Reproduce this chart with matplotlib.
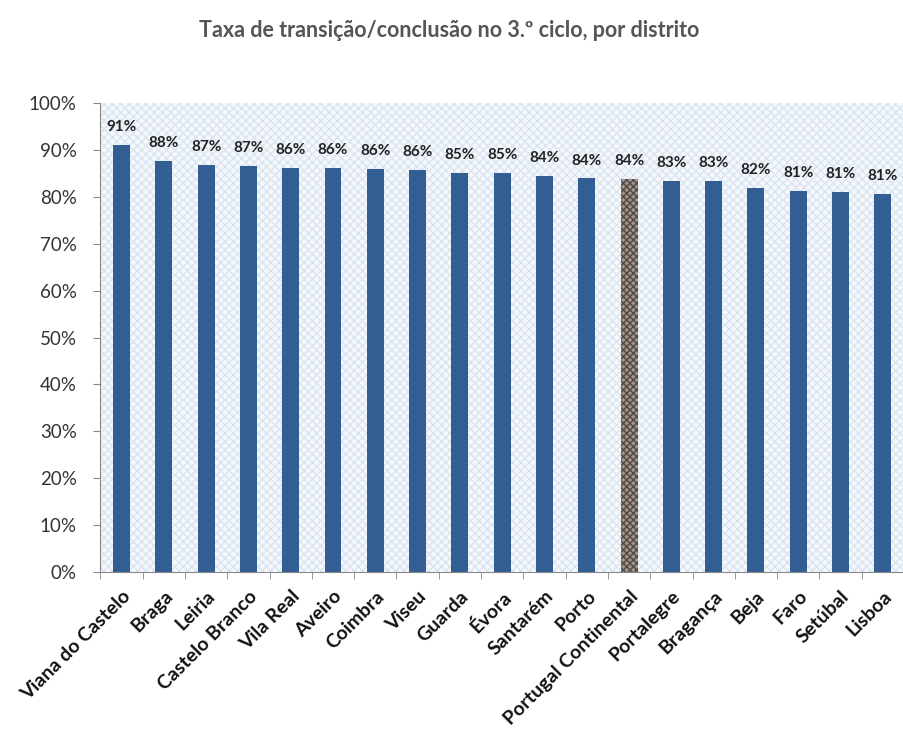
import numpy as np
import matplotlib.pyplot as plt
from matplotlib.patches import Rectangle

plt.rcParams['font.family'] = ['Lato', 'DejaVu Sans']

distritos = ["Viana do Castelo", "Braga", "Leiria", "Castelo Branco", "Vila Real",
             "Aveiro", "Coimbra", "Viseu", "Guarda", "Évora", "Santarém", "Porto",
             "Portugal Continental", "Portalegre", "Bragança", "Beja", "Faro",
             "Setúbal", "Lisboa"]
taxa = [91.0, 87.6, 86.7, 86.6, 86.1, 86.1, 85.9, 85.7, 85.1, 85.0, 84.4, 83.9,
        83.8, 83.3, 83.3, 81.8, 81.3, 81.1, 80.6]

fig = plt.figure(figsize=(9.04, 7.29), dpi=100)
ax = fig.add_axes([0.111, 0.215, 0.889, 0.644])

x = np.arange(len(distritos))
n = len(distritos)

# fundo quadriculado
ax.add_patch(Rectangle((0, 0), 1, 1, transform=ax.transAxes, facecolor='#f5f8fc',
                       edgecolor='#dae5f0', hatch='xxxx', linewidth=0, zorder=0))

for i, v in enumerate(taxa):
    if distritos[i] == "Portugal Continental":
        ax.bar(x[i], v, width=0.4, facecolor='#a89286', edgecolor='#4a4a4a',
               hatch='xxxxx', linewidth=0, zorder=2)
    else:
        ax.bar(x[i], v, width=0.4, color='#335e94', zorder=2)
    ax.text(x[i], v + 2.3, f"{v:.0f}%", ha='center', va='bottom', fontsize=11,
            fontweight='bold', color='#222222')

ax.set_xlim(-0.5, n - 0.5)
ax.set_ylim(0, 100)
ax.set_yticks(np.arange(0, 101, 10))
ax.set_yticklabels([f"{t}%" for t in range(0, 101, 10)], fontsize=13.5, color='#333333')
ax.set_xticks(x)
ax.set_xticklabels(distritos, rotation=45, ha='right', rotation_mode='anchor',
                   fontsize=14, fontweight='bold', color='#111111')
ax.set_xticks(np.arange(-0.5, n, 1), minor=True)
ax.tick_params(axis='x', which='major', length=0, pad=11)
ax.tick_params(axis='x', which='minor', length=5, color='#888888')
ax.tick_params(axis='y', length=5, color='#888888', pad=12)

for s in ['top', 'right']:
    ax.spines[s].set_visible(False)
for s in ['left', 'bottom']:
    ax.spines[s].set_color('#888888')

fig.text(0.497, 0.958, "Taxa de transição/conclusão no 3.º ciclo, por distrito",
         ha='center', va='center', fontsize=15.5, fontweight='bold', color='#555555')

fig.savefig("out.png", dpi=100)
